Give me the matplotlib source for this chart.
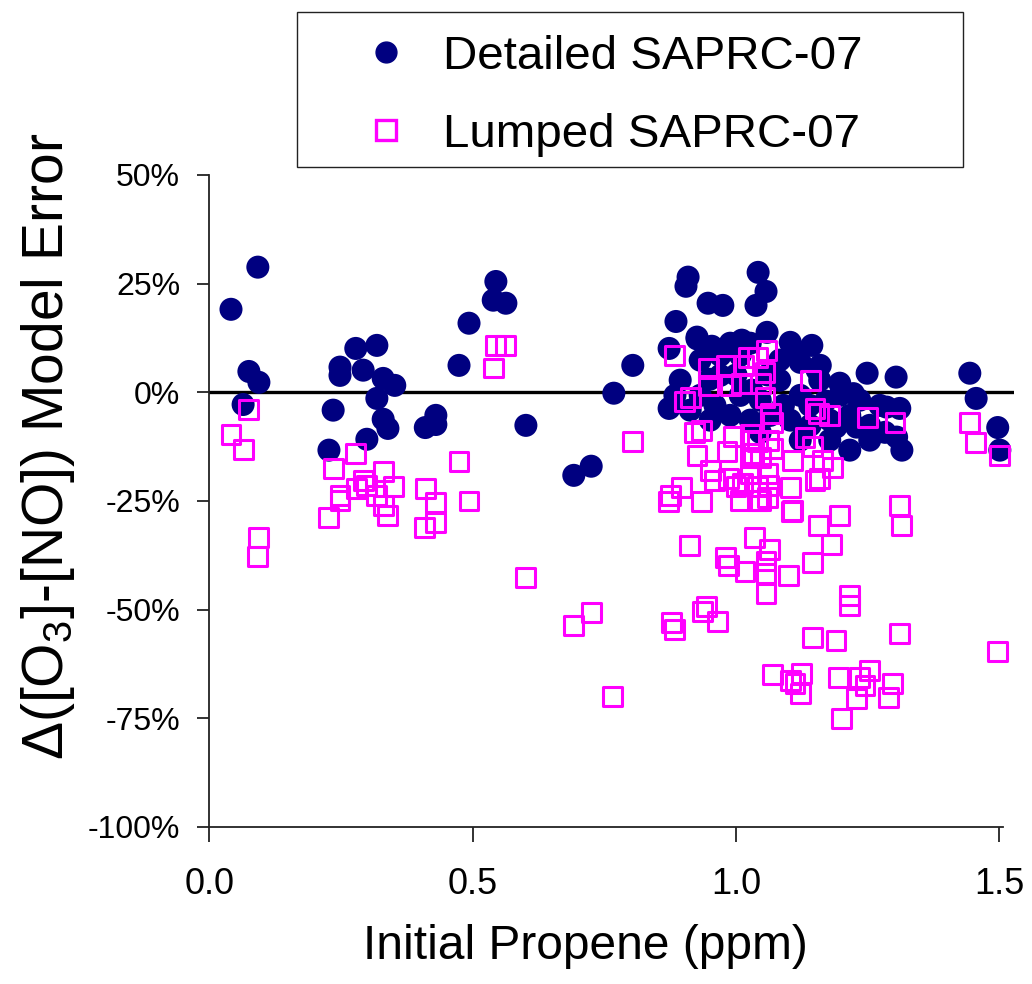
import matplotlib
matplotlib.use("Agg")
import matplotlib.pyplot as plt
from matplotlib.patches import Rectangle
from matplotlib.lines import Line2D

plt.rcParams['font.family'] = ['Liberation Sans', 'DejaVu Sans']
plt.rcParams['mathtext.fontset'] = 'custom'
plt.rcParams['mathtext.rm'] = 'Liberation Sans'
plt.rcParams['mathtext.it'] = 'Liberation Sans:italic'

# ---------------- data (initial propene ppm, model error %) ----------------
detailed_x = [
    0.092, 0.041, 0.075, 0.094, 0.064,
    0.248, 0.248, 0.278, 0.318, 0.292, 0.330, 0.352, 0.318, 0.235, 0.330, 0.339, 0.299, 0.227,
    0.410, 0.430, 0.430,
    0.474, 0.493, 0.544, 0.539, 0.563,
    0.804, 0.768, 0.601, 0.692, 0.725,
    0.909, 0.905, 0.886, 0.947, 0.975, 0.873, 0.926, 0.873,
    1.042, 1.057, 1.038, 1.059, 1.103, 1.144,
    1.249, 1.304, 1.444, 1.456, 1.497, 1.501, 1.216, 1.315, 1.311, 1.197,
    0.926, 0.954, 0.989, 1.011, 1.027, 1.116, 1.154, 1.223, 1.229, 1.286, 1.305,
    0.894, 0.932, 0.970, 1.008, 1.046, 1.083, 1.122, 1.159, 1.197, 1.235, 1.273,
    0.932, 0.970, 1.008, 1.083, 1.122, 1.160,
    0.913, 0.951, 0.989, 1.027, 1.065, 1.103, 1.141, 1.178, 1.216, 1.254, 1.283,
    1.046, 1.122, 1.178, 1.254, 0.884,
    0.950, 1.000, 1.030, 1.090, 1.170, 1.190, 1.140, 0.960, 0.990, 1.060,
]
detailed_y = [
    28.8, 19.1, 4.8, 2.3, -2.8,
    5.8, 3.9, 10.1, 10.8, 5.1, 3.2, 1.6, -1.4, -4.1, -6.2, -8.3, -10.8, -13.3,
    -8.1, -5.3, -7.4,
    6.2, 15.9, 25.5, 21.2, 20.5,
    6.2, -0.2, -7.6, -19.1, -17.0,
    26.5, 24.4, 16.3, 20.5, 20.0, 10.1, 12.7, -3.7,
    27.6, 23.2, 20.0, 13.8, 11.5, 10.8,
    4.4, 3.5, 4.4, -1.4, -8.1, -13.3, -13.3, -13.3, -3.7, 2.1,
    12.3, 10.6, 11.3, 12.0, 11.3, 9.4, 5.1, -0.3, -8.0, -3.4, -10.3,
    2.8, -0.7, 3.9, -0.7, -1.8, 2.8, -0.7, 2.8, -0.7, -1.8, -3.0,
    7.4, 8.5, 8.5, 7.4, 6.9, 6.2,
    -4.1, -6.4, -5.3, -6.4, -5.3, -6.4, -7.6, -6.4, -5.3, -7.6, -9.2,
    -9.2, -11.0, -11.0, -11.0, -0.7,
    3.0, 4.0, 0.5, -3.0, -2.0, -8.0, -3.0, -3.0, 10.0, 4.0,
]

lumped_x = [
    0.075, 0.041, 0.064, 0.094, 0.092,
    0.278, 0.235, 0.330, 0.349, 0.292, 0.299, 0.280, 0.248, 0.248, 0.227, 0.318, 0.330, 0.339,
    0.410, 0.430, 0.430, 0.408, 0.474, 0.493,
    0.544, 0.563, 0.539,
    0.804, 0.601, 0.692, 0.725, 0.766,
    0.911, 0.980, 0.985, 1.035, 1.063, 1.017, 1.057, 1.057, 1.057, 1.099, 1.145, 1.182, 1.156,
    1.315, 1.216, 1.216, 0.877, 0.884, 0.937, 0.944, 0.965, 1.146, 1.190, 1.311, 1.497,
    1.070, 1.103, 1.112, 1.125, 1.122, 1.194, 1.235, 1.254, 1.245, 1.228, 1.298, 1.289, 1.201,
    1.106, 1.196, 1.311, 0.871, 0.935, 1.008, 1.046,
    0.884, 0.947, 0.981, 1.014, 1.040, 1.058, 1.023, 1.055, 1.141, 1.055, 1.065, 1.150, 1.156,
    1.178, 1.249, 1.302, 1.444, 1.454, 1.501,
    1.070, 1.131, 1.146, 1.184, 1.150, 1.159, 1.108,
    1.027, 1.033, 1.070, 1.027, 1.059, 1.040, 1.059, 1.108, 1.103, 1.165,
    0.913, 0.947, 0.989, 1.011, 1.046, 0.922, 0.935, 0.996, 1.027, 1.040, 1.061,
    0.926, 0.983, 1.027, 1.046, 0.951, 0.985, 1.013, 0.897, 0.875, 1.000, 1.040, 1.061,
    0.903, 0.960,
]
lumped_y = [
    -4.0, -9.7, -13.1, -33.3, -37.7,
    -14.0, -17.5, -18.3, -21.6, -20.2, -21.4, -22.1, -23.7, -24.8, -28.8, -23.7, -26.0, -28.3,
    -22.1, -25.3, -29.9, -31.1, -15.9, -25.0,
    10.8, 10.8, 5.6,
    -11.3, -42.6, -53.6, -50.6, -69.9,
    -35.2, -38.0, -39.8, -33.4, -36.2, -41.2, -38.8, -41.6, -46.2, -42.1, -39.1, -35.0, -30.6,
    -30.6, -46.7, -49.0, -52.9, -54.5, -50.4, -49.2, -52.7, -56.4, -57.0, -55.4, -59.6,
    -64.9, -66.2, -66.9, -64.7, -69.2, -65.6, -65.6, -63.9, -67.4, -70.4, -66.9, -70.2, -75.0,
    -27.5, -28.3, -26.0, -25.2, -25.2, -24.8, -24.8,
    8.5, 5.5, 6.2, 6.2, 8.1, 9.7, 8.1, 4.6, 2.8, -1.2, -4.8, -3.7, -4.8,
    -5.3, -5.8, -6.9, -6.9, -11.5, -14.5,
    -6.9, -10.3, -12.5, -17.2, -20.2, -19.8, -27.1,
    -11.0, -14.0, -12.9, -18.6, -18.6, -24.8, -24.2, -15.6, -21.9, -15.6,
    -1.1, 1.6, 1.6, 2.0, 2.0, -9.2, -8.8, -10.1, -9.8, -11.3, -11.0,
    -14.5, -13.7, -14.9, -14.9, -17.9, -19.8, -20.9, -21.8, -23.7, -21.6, -21.6, -21.4,
    -2.2, -20.2,
]

series_labels = ["Detailed SAPRC-07", "Lumped SAPRC-07"]
x_ticks = [0.0, 0.5, 1.0, 1.5]
y_ticks = [-100, -75, -50, -25, 0, 25, 50]

NAVY = "#000080"
MAGENTA = "#FF00FF"

W, H = 1032, 984
fig = plt.figure(figsize=(W / 100, H / 100), dpi=100)
ax = fig.add_axes([209.4 / W, 1 - 827 / H, (1014 - 209.4) / W, (827 - 175) / H])

ax.axhline(0, color="black", lw=2.4, zorder=1)
ax.scatter(detailed_x, detailed_y, s=275, marker="o", color=NAVY,
           edgecolors="none", zorder=2)
ax.scatter(lumped_x, lumped_y, s=185, marker="s", facecolors="none",
           edgecolors=MAGENTA, linewidths=2.2, zorder=3)

ax.set_xlim(0, (1014 - 209.4) / 526.6)
ax.set_ylim(-100, 50)
for s in ["top", "right"]:
    ax.spines[s].set_visible(False)
for s in ["left", "bottom"]:
    ax.spines[s].set_linewidth(1.3)
    ax.spines[s].set_color("#222222")
ax.spines["bottom"].set_bounds(0, 1.507)

ax.set_xticks(x_ticks)
ax.set_xticklabels([f"{v:.1f}" for v in x_ticks])
ax.set_yticks(y_ticks)
ax.set_yticklabels([f"{v}%" for v in y_ticks])
ax.tick_params(axis="both", direction="out", width=1.3, color="#222222")
ax.tick_params(axis="x", length=11, pad=18, labelsize=26)
ax.tick_params(axis="y", length=9, pad=12, labelsize=23)

ax.set_xlabel("Initial Propene (ppm)", fontsize=34.5)
ax.xaxis.set_label_coords(0.467, -0.183)
ax.xaxis.label.set_verticalalignment("center")
ax.set_ylabel(r"Δ([O$_3$]-[NO]) Model Error", fontsize=41)
ax.yaxis.set_label_coords(-0.200, 0.583)
ax.yaxis.label.set_verticalalignment("center")

# legend
handles = [
    Line2D([], [], marker="o", linestyle="none", color=NAVY, markersize=15),
    Line2D([], [], marker="s", linestyle="none", markerfacecolor="none",
           markeredgecolor=MAGENTA, markeredgewidth=2.4, markersize=14),
]
leg = fig.legend(handles, series_labels, loc="center",
                 bbox_to_anchor=(0.596, 1 - 96 / H), frameon=False,
                 fontsize=34.2, handlelength=0.8, handletextpad=0.8,
                 labelspacing=0.72)
fig.add_artist(Rectangle((297 / W, 1 - 167 / H), (963 - 297) / W, (167 - 12) / H,
                         transform=fig.transFigure, facecolor="none",
                         edgecolor="#222222", linewidth=1.0))

fig.savefig("out.png", dpi=100)
